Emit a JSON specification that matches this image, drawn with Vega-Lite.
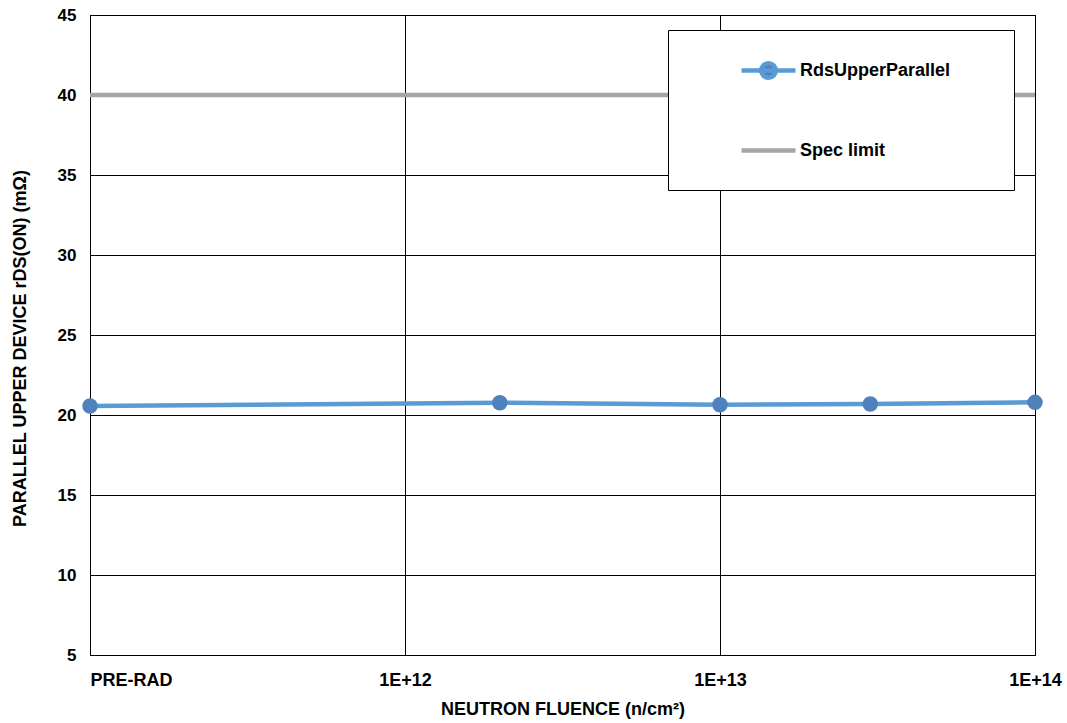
{
  "$schema": "https://vega.github.io/schema/vega-lite/v6.json",
  "width": 945,
  "height": 640,
  "autosize": {"type": "none"},
  "padding": {"left": 90, "top": 15, "right": 32, "bottom": 68},
  "background": "white",
  "config": {
    "view": {"stroke": "black", "strokeWidth": 1},
    "font": "Liberation Sans"
  },
  "data": {
    "values": [
      {"fluence": 1e11, "value": 20.56, "series": "RdsUpperParallel"},
      {"fluence": 2e12, "value": 20.77, "series": "RdsUpperParallel"},
      {"fluence": 1e13, "value": 20.64, "series": "RdsUpperParallel"},
      {"fluence": 3e13, "value": 20.69, "series": "RdsUpperParallel"},
      {"fluence": 1e14, "value": 20.79, "series": "RdsUpperParallel"},
      {"fluence": 1e11, "value": 40, "series": "Spec limit"},
      {"fluence": 1e14, "value": 40, "series": "Spec limit"}
    ]
  },
  "encoding": {
    "x": {
      "field": "fluence",
      "type": "quantitative",
      "scale": {"type": "log", "domain": [1e11, 1e14], "nice": false},
      "axis": {
        "values": [1e11, 1e12, 1e13, 1e14],
        "labelExpr": "datum.value < 2e11 ? 'PRE-RAD' : '1E+' + round(log(datum.value) / LN10)",
        "labelFlush": false,
        "labelAlign": {"condition": {"test": "datum.value < 2e11", "value": "left"}, "value": "center"},
        "grid": true,
        "gridColor": "black",
        "gridOpacity": 1,
        "gridWidth": 1,
        "ticks": false,
        "domainColor": "black",
        "domainWidth": 1,
        "labelFont": "Liberation Sans",
        "labelFontSize": 18,
        "labelFontWeight": "bold",
        "labelColor": "black",
        "labelPadding": 16,
        "title": "NEUTRON FLUENCE (n/cm²)",
        "titleFont": "Liberation Sans",
        "titleFontSize": 18,
        "titleFontWeight": "bold",
        "titleColor": "black",
        "titlePadding": 11
      }
    },
    "y": {
      "field": "value",
      "type": "quantitative",
      "scale": {"domain": [5, 45], "nice": false},
      "axis": {
        "values": [5, 10, 15, 20, 25, 30, 35, 40, 45],
        "grid": true,
        "gridColor": "black",
        "gridOpacity": 1,
        "gridWidth": 1,
        "ticks": false,
        "domainColor": "black",
        "domainWidth": 1,
        "labelFont": "Liberation Sans",
        "labelFontSize": 17,
        "labelFontWeight": "bold",
        "labelColor": "black",
        "labelPadding": 14,
        "title": "PARALLEL UPPER DEVICE rDS(ON) (mΩ)",
        "titleFont": "Liberation Sans",
        "titleFontSize": 18,
        "titleFontWeight": "bold",
        "titleColor": "black",
        "titleX": -65,
        "titleY": 333,
        "titleBaseline": "alphabetic"
      }
    }
  },
  "layer": [
    {
      "mark": {"type": "line", "strokeWidth": 4.5},
      "encoding": {
        "color": {
          "field": "series",
          "type": "nominal",
          "scale": {"domain": ["RdsUpperParallel", "Spec limit"], "range": ["#5B9BD5", "#A5A5A5"]},
          "legend": {
            "orient": "none",
            "legendX": 578,
            "legendY": 15,
            "title": null,
            "fillColor": "white",
            "strokeColor": "black",
            "padding": 11,
            "symbolOffset": 60,
            "symbolSize": 2916,
            "symbolStrokeWidth": 4.5,
            "labelOffset": 2,
            "rowPadding": 34,
            "labelFont": "Liberation Sans",
            "labelFontSize": 18,
            "labelFontWeight": "bold",
            "labelColor": "black",
            "encode": {
              "symbols": {
                "update": {
                  "shape": {"signal": "datum.value === 'Spec limit' ? 'M-1,0H1M8.35,0.71' : 'M-1,0H1M0.27,0A0.27,0.27,0,1,1,-0.27,0A0.27,0.27,0,1,1,0.27,0Z'"},
                  "fill": {"signal": "datum.value === 'Spec limit' ? 'transparent' : '#4F81BD'"}
                }
              }
            }
          }
        }
      }
    },
    {
      "transform": [{"filter": "datum.series === 'RdsUpperParallel'"}],
      "mark": {"type": "point", "filled": true, "color": "#4F81BD", "opacity": 1, "size": 240}
    }
  ]
}
